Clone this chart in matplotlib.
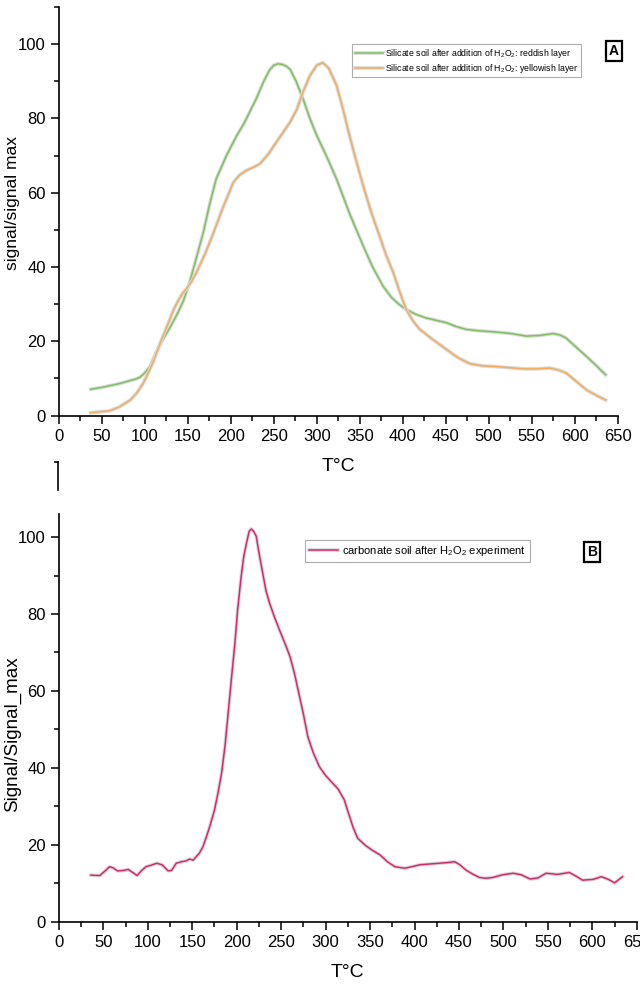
import numpy as np
import matplotlib.pyplot as plt
import matplotlib.patheffects as pe
from matplotlib.lines import Line2D
from matplotlib.ticker import MultipleLocator

plt.rcParams['font.family'] = ['Liberation Sans', 'DejaVu Sans']
plt.rcParams['mathtext.fontset'] = 'custom'
plt.rcParams['mathtext.rm'] = 'Liberation Sans'

# top panel: silicate soil
t_red = [37, 50, 70, 90, 94, 100, 106, 113, 121, 130, 138, 145, 152, 160, 168, 175, 183, 195,
         207, 215, 222, 230, 238, 245, 250, 255, 260, 265, 269, 276, 284, 292, 300, 312, 323,
         338, 354, 365, 377, 387, 396, 404, 415, 427, 440, 451, 462, 474, 490, 509, 526, 544,
         560, 575, 583, 590, 600, 614, 625, 636]
s_red = [7.1, 7.6, 8.6, 9.9, 10.3, 11.5, 13.2, 17.0, 20.5, 24.0, 27.5, 31.0, 35.8, 42.5, 49.3,
         56.5, 63.7, 70.0, 75.4, 78.5, 81.7, 85.5, 89.8, 93.0, 94.3, 94.7, 94.5, 94.0, 93.2, 90.0,
         85.3, 80.0, 75.4, 69.5, 63.7, 54.5, 45.7, 40.0, 34.9, 31.8, 29.9, 28.6, 27.3, 26.3, 25.6,
         25.0, 24.0, 23.2, 22.8, 22.5, 22.1, 21.4, 21.6, 22.1, 21.7, 20.9, 18.8, 15.9, 13.5, 11.0]

t_yel = [37, 59, 70, 83, 91, 98, 104, 110, 118, 124, 129, 134, 139, 144, 148, 154, 160, 170,
         180, 190, 203, 210, 218, 226, 234, 244, 253, 261, 269, 277, 284, 292, 300, 307, 314,
         323, 330, 338, 346, 354, 363, 373, 381, 389, 397, 404, 412, 420, 435, 451, 465, 478,
         493, 509, 525, 540, 556, 571, 581, 590, 602, 614, 625, 636]
s_yel = [0.8, 1.3, 2.3, 4.2, 6.2, 8.7, 11.5, 14.6, 19.6, 23.0, 25.9, 28.8, 31.0, 33.0, 34.0,
         36.0, 38.5, 43.5, 49.3, 55.5, 62.8, 64.7, 66.0, 66.8, 67.8, 70.5, 73.6, 76.3, 79.0, 82.5,
         87.1, 91.5, 94.3, 95.0, 93.5, 88.9, 83.0, 75.4, 68.5, 61.9, 55.0, 48.4, 43.0, 38.5, 33.0,
         28.6, 25.5, 23.2, 20.5, 17.8, 15.5, 14.0, 13.4, 13.2, 12.9, 12.6, 12.6, 12.8, 12.3, 11.5,
         9.2, 6.9, 5.5, 4.2]

# bottom panel: carbonate soil
t_carb = [36, 46, 52, 57, 61, 66, 72, 78, 83, 88, 93, 98, 104, 110, 116, 123, 127, 132, 138,
          143, 147, 151, 154, 158, 162, 166, 170, 175, 179, 183, 187, 190, 194, 198, 201, 205,
          208, 211, 214, 216.5, 219, 222, 225, 230, 233, 237, 242, 248, 254, 260, 265, 269, 275,
          280, 286, 293, 300, 308, 314, 321, 326, 331, 336, 345, 353, 361, 370, 378, 389, 397,
          406, 417, 428, 438, 445, 451, 458, 466, 473, 480, 488, 499, 511, 520, 530, 539, 548,
          561, 574, 582, 589, 595, 601, 610, 618, 625, 634]
s_carb = [12.1, 12.0, 13.2, 14.3, 14.0, 13.2, 13.3, 13.6, 12.8, 12.0, 13.3, 14.3, 14.7, 15.2,
          14.8, 13.2, 13.4, 15.2, 15.6, 15.8, 16.3, 16.0, 16.8, 17.8, 19.5, 22.1, 25.0, 29.0,
          33.5, 38.6, 46.0, 53.3, 63.0, 72.4, 81.0, 89.7, 95.0, 98.4, 101.5, 102.1, 101.5, 100.2,
          96.0, 89.7, 86.0, 82.8, 79.5, 75.9, 72.5, 68.9, 64.5, 60.3, 54.0, 48.1, 44.0, 40.3, 38.0,
          36.0, 34.5, 31.7, 28.0, 24.5, 21.7, 19.8, 18.5, 17.4, 15.5, 14.3, 13.9, 14.3, 14.8, 15.0,
          15.2, 15.4, 15.6, 14.8, 13.4, 12.3, 11.5, 11.3, 11.5, 12.2, 12.6, 12.2, 11.1, 11.4, 12.6,
          12.3, 12.8, 11.8, 10.8, 10.9, 11.0, 11.7, 11.0, 10.1, 11.7]

halo = [pe.Stroke(linewidth=2.6, foreground='#d9d9d9'), pe.Normal()]

fig = plt.figure(figsize=(6.4, 9.88), dpi=100)
ax1 = fig.add_axes([0.092, 0.5793, 0.873, 0.4137])
ax2 = fig.add_axes([0.092, 0.0671, 0.903, 0.4127])

ax1.plot(t_red, s_red, color='#7cc35c', lw=1.1, path_effects=halo,
         label=r'Silicate soil after addition of $\mathregular{H_2O_2}$: reddish layer')
ax1.plot(t_yel, s_yel, color='#f4ad5e', lw=1.1, path_effects=halo,
         label=r'Silicate soil after addition of $\mathregular{H_2O_2}$: yellowish layer')
ax1.set_xlim(0, 650)
ax1.set_ylim(0, 110)
ax1.set_ylabel('signal/signal max', fontsize=12.5)
ax1.yaxis.set_label_coords(-0.07, 0.52)
ax1.set_xlabel('T°C', fontsize=14, labelpad=10)

ax2.plot(t_carb, s_carb, color='#d6286f', lw=1.1, path_effects=halo,
         label=r'carbonate soil after $\mathregular{H_2O_2}$ experiment')
ax2.set_xlim(0, 650)
ax2.set_ylim(0, 106)
ax2.set_ylabel('Signal/Signal_max', fontsize=13.5)
ax2.yaxis.set_label_coords(-0.065, 0.46)
ax2.set_xlabel('T°C', fontsize=14, labelpad=10)

for ax in (ax1, ax2):
    ax.spines['top'].set_visible(False)
    ax.spines['right'].set_visible(False)
    ax.spines['left'].set_linewidth(1.2)
    ax.spines['bottom'].set_linewidth(1.2)
    ax.xaxis.set_major_locator(MultipleLocator(50))
    ax.xaxis.set_minor_locator(MultipleLocator(25))
    ax.yaxis.set_major_locator(MultipleLocator(20))
    ax.yaxis.set_minor_locator(MultipleLocator(10))
    ax.tick_params(which='major', direction='out', length=6, width=1.1, labelsize=12)
    ax.tick_params(which='minor', direction='out', length=3.5, width=1.1)

leg1 = ax1.legend(loc='upper left', bbox_to_anchor=(352 / 640, 1 - 44 / 988),
                  bbox_transform=fig.transFigure, fontsize=6.3, frameon=True,
                  fancybox=False, edgecolor='#999999', handlelength=3.2,
                  borderpad=0.3, labelspacing=0.25, handletextpad=0.3, borderaxespad=0)
leg1.get_frame().set_linewidth(0.8)

leg2 = ax2.legend(loc='upper left', bbox_to_anchor=(305 / 640, 1 - 540 / 988),
                  bbox_transform=fig.transFigure, fontsize=8, frameon=True,
                  fancybox=False, edgecolor='#999999', handlelength=2.6,
                  borderpad=0.35, handletextpad=0.4, borderaxespad=0)
leg2.get_frame().set_linewidth(0.8)

box = dict(boxstyle='square,pad=0.25', facecolor='white', edgecolor='black', linewidth=1.6)
fig.text(614 / 640, 1 - 51 / 988, 'A', fontsize=10, fontweight='bold', ha='center', va='center', bbox=box)
fig.text(592 / 640, 1 - 552 / 988, 'B', fontsize=10, fontweight='bold', ha='center', va='center', bbox=box)

# small bracket mark below the top panel
fig.add_artist(Line2D([58 / 640, 58 / 640], [1 - 462 / 988, 1 - 490 / 988],
                      color='black', lw=1.2, transform=fig.transFigure))
fig.add_artist(Line2D([55 / 640, 58 / 640], [1 - 462 / 988, 1 - 462 / 988],
                      color='black', lw=1.2, transform=fig.transFigure))

fig.savefig('out.png', dpi=100)
